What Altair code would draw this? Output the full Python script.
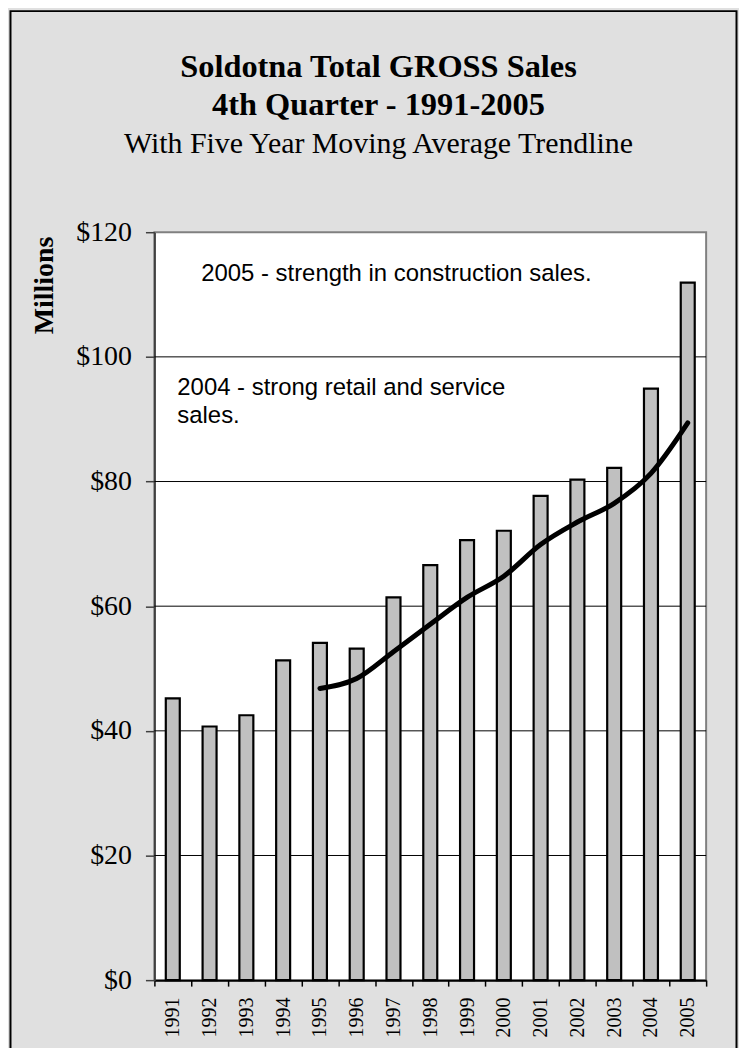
import altair as alt
import pandas as pd

# ---- data ----
years = ["1991", "1992", "1993", "1994", "1995", "1996", "1997", "1998",
         "1999", "2000", "2001", "2002", "2003", "2004", "2005"]
sales = [45.2, 40.7, 42.5, 51.3, 54.1, 53.2, 61.4, 66.6,
         70.6, 72.1, 77.7, 80.3, 82.2, 94.9, 111.9]

trend_years = ["1995", "1996", "1997", "1998", "1999", "2000",
               "2001", "2002", "2003", "2004", "2005"]
trend_values = [46.8, 48.4, 52.7, 57.1, 61.4, 64.8, 69.9, 73.5, 76.5, 81.3, 89.4]

y_ticks = [0, 20, 40, 60, 80, 100, 120]
grid_values = [20, 40, 60, 80, 100]

title_line1 = "Soldotna Total GROSS Sales"
title_line2 = "4th Quarter - 1991-2005"
subtitle = "With Five Year Moving Average Trendline"
y_title = "Millions"
note_2005 = "2005 - strength in construction sales."
note_2004 = "2004 - strong retail and service\nsales."

# ---- layout ----
W, H = 554, 751
SERIF = "Liberation Serif"
SANS = "Liberation Sans"

bars_df = pd.DataFrame({"year": years, "sales": sales})
trend_df = pd.DataFrame({"year": trend_years, "sales": trend_values})
grid_df = pd.DataFrame({"sales": grid_values})

x_scale = alt.Scale(domain=years, paddingInner=0, paddingOuter=0)
y_scale = alt.Scale(domain=[0, 120], nice=False, zero=True)

x_axis = alt.Axis(
    title=None, labelAngle=270, labelAlign="right", labelBaseline="middle",
    labelFont=SERIF, labelFontSize=20, labelColor="black", labelPadding=11,
    tickBand="extent", tickSize=6, tickColor="black", tickWidth=1.5,
    domainColor="black", domainWidth=2, labelOverlap=False, grid=False)

y_axis = alt.Axis(
    values=y_ticks, labelExpr="'$' + datum.value", grid=False,
    domainColor="#404040", domainWidth=2, tickColor="#404040", tickSize=9,
    tickWidth=1.5, labelFont=SERIF, labelFontSize=28, labelColor="black",
    labelPadding=14, title=y_title, titleFont=SERIF, titleFontSize=28,
    titleFontWeight="bold", titleColor="black", titleAngle=270,
    titleX=-110, titleY=4, titleAlign="right", titleBaseline="middle")

X = alt.X("year:N", scale=x_scale, sort=years, axis=x_axis)
Y = alt.Y("sales:Q", scale=y_scale, axis=y_axis)

frame = alt.Chart(alt.Data(values=[{"k": 1}])).mark_rect(
    fillOpacity=0, stroke="black", strokeWidth=2
).encode(
    x=alt.value(-144.5), x2=alt.value(584.5),
    y=alt.value(-222), y2=alt.value(900)
)

grid = alt.Chart(grid_df).mark_rule(color="black", strokeWidth=1).encode(y=Y)

bars = alt.Chart(bars_df).mark_bar(
    width={"band": 0.38}, fill="#c0c0c0", stroke="black", strokeWidth=2.2
).encode(x=X, y=Y)

line = alt.Chart(trend_df).mark_line(
    color="black", strokeWidth=5, interpolate="monotone",
    strokeCap="round", strokeJoin="round"
).encode(x=X, y=Y)


def text_layer(txt, x, y, font, size, weight="normal", align="left"):
    return alt.Chart(alt.Data(values=[{"t": txt}])).mark_text(
        font=font, fontSize=size, fontWeight=weight, align=align,
        baseline="alphabetic", color="black", lineBreak="\n", lineHeight=29
    ).encode(text="t:N", x=alt.value(x), y=alt.value(y))


ann1 = text_layer(note_2005, 47, 49, SANS, 24)
ann2 = text_layer(note_2004, 23, 163, SANS, 24)
t1 = text_layer(title_line1, 225, -156, SERIF, 32.5, "bold", "center")
t2 = text_layer(title_line2, 225, -118, SERIF, 32.5, "bold", "center")
t3 = text_layer(subtitle, 225, -80, SERIF, 30, "normal", "center")

chart = alt.layer(frame, grid, bars, line, ann1, ann2, t1, t2, t3).properties(
    width=W, height=H, background="#e0e0e0",
    padding={"left": 147, "top": 223, "right": 33, "bottom": 66},
    autosize=alt.AutoSizeParams(type="none")
).configure_view(fill="white", stroke="#808080", strokeWidth=2)

chart.save("out.html", embed_options={"renderer": "svg", "actions": False})
